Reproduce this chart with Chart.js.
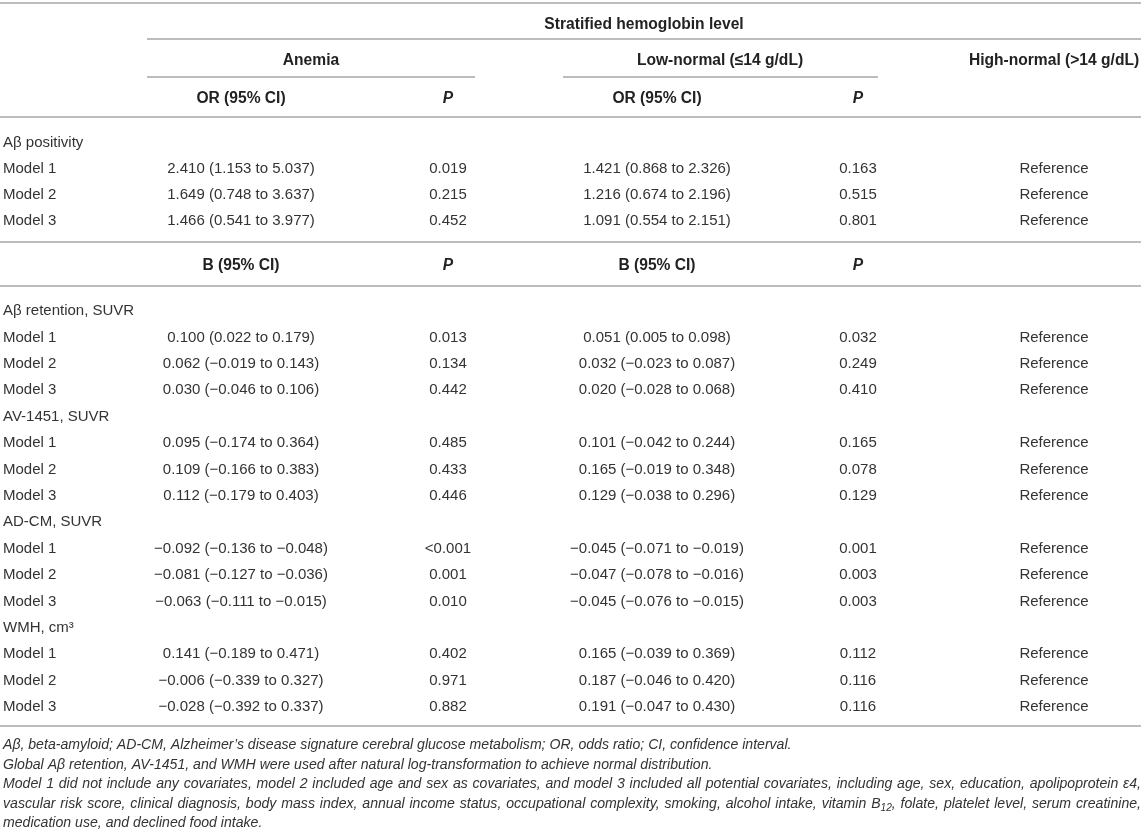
<!DOCTYPE html>
<html>
<head>
<meta charset="utf-8">
<script src="https://cdn.jsdelivr.net/npm/chart.js@4.4.0/dist/chart.umd.min.js"></script>
<style>
  html, body { margin: 0; padding: 0; background: #fff; }
  canvas { display: block; }
</style>
</head>
<body>
<canvas id="tbl" width="1144" height="833"></canvas>
<script>
// ---- table content ----
const outcomes = ['Aβ positivity', 'Aβ retention, SUVR', 'AV-1451, SUVR', 'AD-CM, SUVR', 'WMH, cm³'];
const models = ['Model 1', 'Model 2', 'Model 3'];
const topHead = 'Stratified hemoglobin level';
const groups = ['Anemia', 'Low-normal (≤14 g/dL)', 'High-normal (>14 g/dL)'];
const estHeads = ['OR (95% CI)', 'B (95% CI)'];
const pHead = 'P';
const refText = 'Reference';

const anemiaEst = [
  '2.410 (1.153 to 5.037)', '1.649 (0.748 to 3.637)', '1.466 (0.541 to 3.977)',
  '0.100 (0.022 to 0.179)', '0.062 (−0.019 to 0.143)', '0.030 (−0.046 to 0.106)',
  '0.095 (−0.174 to 0.364)', '0.109 (−0.166 to 0.383)', '0.112 (−0.179 to 0.403)',
  '−0.092 (−0.136 to −0.048)', '−0.081 (−0.127 to −0.036)', '−0.063 (−0.111 to −0.015)',
  '0.141 (−0.189 to 0.471)', '−0.006 (−0.339 to 0.327)', '−0.028 (−0.392 to 0.337)'
];
const anemiaP = [
  '0.019', '0.215', '0.452',
  '0.013', '0.134', '0.442',
  '0.485', '0.433', '0.446',
  '<0.001', '0.001', '0.010',
  '0.402', '0.971', '0.882'
];
const lowEst = [
  '1.421 (0.868 to 2.326)', '1.216 (0.674 to 2.196)', '1.091 (0.554 to 2.151)',
  '0.051 (0.005 to 0.098)', '0.032 (−0.023 to 0.087)', '0.020 (−0.028 to 0.068)',
  '0.101 (−0.042 to 0.244)', '0.165 (−0.019 to 0.348)', '0.129 (−0.038 to 0.296)',
  '−0.045 (−0.071 to −0.019)', '−0.047 (−0.078 to −0.016)', '−0.045 (−0.076 to −0.015)',
  '0.165 (−0.039 to 0.369)', '0.187 (−0.046 to 0.420)', '0.191 (−0.047 to 0.430)'
];
const lowP = [
  '0.163', '0.515', '0.801',
  '0.032', '0.249', '0.410',
  '0.165', '0.078', '0.129',
  '0.001', '0.003', '0.003',
  '0.112', '0.116', '0.116'
];

const footnotes = [
  'Aβ, beta-amyloid; AD-CM, Alzheimer’s disease signature cerebral glucose metabolism; OR, odds ratio; CI, confidence interval.',
  'Global Aβ retention, AV-1451, and WMH were used after natural log-transformation to achieve normal distribution.',
  'Model 1 did not include any covariates, model 2 included age and sex as covariates, and model 3 included all potential covariates, including age, sex, education, apolipoprotein ε4,',
  'vascular risk score, clinical diagnosis, body mass index, annual income status, occupational complexity, smoking, alcohol intake, vitamin B_12, folate, platelet level, serum creatinine,',
  'medication use, and declined food intake.'
];
const justified = [false, false, true, true, false];

// ---- layout (in scale units = px of the page) ----
const colX = [3, 241, 448, 657, 858, 1054];
const tableRight = 1141;
const yTop = 3, yStrat = 23, yGroup = 59, yEstHead = 97;
const lineStrat = 39, lineGroup = 77, lineHead = 117;
const firstRow1 = 141, step1 = 26;
const lineMid = 242, yBHead = 264, lineBHead = 286;
const firstRow2 = 309, step2 = 26.4;
const lineBottom = 726;
const firstNote = 743, noteStep = 19.6;
const textDy = 2;

const FONT = '"Liberation Sans", Arial, Helvetica, sans-serif';
const TXT = '#333333', HEAD = '#222222', RULE = '#bdbdbd';
const BOLD = 'bold 15.6px ' + FONT;

function drawRich(ctx, word, x, y, size, draw) {
  // handles _NN subscripts
  const parts = word.split(/(_\d+)/);
  let w = 0;
  parts.forEach(p => {
    if (!p) return;
    if (p[0] === '_') {
      ctx.font = 'italic ' + (size * 0.72) + 'px ' + FONT;
      const t = p.slice(1);
      if (draw) ctx.fillText(t, x + w, y + size * 0.28);
      w += ctx.measureText(t).width;
    } else {
      ctx.font = 'italic ' + size + 'px ' + FONT;
      if (draw) ctx.fillText(p, x + w, y);
      w += ctx.measureText(p).width;
    }
  });
  return w;
}

const tablePlugin = {
  id: 'tablePlugin',
  afterDraw(chart) {
    const ctx = chart.ctx;
    const xs = chart.scales.x, ys = chart.scales.y;
    const X = v => xs.getPixelForValue(v);
    const Y = v => ys.getPixelForValue(v);
    const T = v => ys.getPixelForValue(v + textDy);

    ctx.save();
    // rules
    ctx.strokeStyle = RULE;
    ctx.lineWidth = 2;
    const hline = (x0, x1, y) => {
      ctx.beginPath();
      ctx.moveTo(X(x0), Y(y));
      ctx.lineTo(X(x1), Y(y));
      ctx.stroke();
    };
    hline(0, tableRight, yTop);
    hline(147, tableRight, lineStrat);
    hline(147, 475, lineGroup);
    hline(563, 878, lineGroup);
    hline(0, tableRight, lineHead);
    hline(0, tableRight, lineMid);
    hline(0, tableRight, lineBHead);
    hline(0, tableRight, lineBottom);

    ctx.textBaseline = 'middle';
    // headers
    ctx.fillStyle = HEAD;
    ctx.textAlign = 'center';
    ctx.font = BOLD;
    ctx.fillText(topHead, X(644), T(yStrat));
    ctx.fillText(groups[0], X(311), T(yGroup));
    ctx.fillText(groups[1], X(720), T(yGroup));
    ctx.fillText(groups[2], X(1054), T(yGroup));
    [[yEstHead, estHeads[0]], [yBHead, estHeads[1]]].forEach(([yy, lab]) => {
      ctx.font = BOLD;
      ctx.fillText(lab, X(colX[1]), T(yy));
      ctx.fillText(lab, X(colX[3]), T(yy));
      ctx.font = 'italic ' + BOLD;
      ctx.fillText(pHead, X(colX[2]), T(yy));
      ctx.fillText(pHead, X(colX[4]), T(yy));
    });

    // body rows
    ctx.fillStyle = TXT;
    ctx.font = '15px ' + FONT;
    let k = 0;
    outcomes.forEach((lab, oi) => {
      const y = oi === 0 ? firstRow1 : firstRow2 + (oi - 1) * 4 * step2;
      const step = oi === 0 ? step1 : step2;
      ctx.textAlign = 'left';
      ctx.fillText(lab, X(colX[0]), T(y));
      models.forEach((m, mi) => {
        const yy = y + (mi + 1) * step;
        ctx.textAlign = 'left';
        ctx.fillText(m, X(colX[0]), T(yy));
        ctx.textAlign = 'center';
        ctx.fillText(anemiaEst[k], X(colX[1]), T(yy));
        ctx.fillText(anemiaP[k], X(colX[2]), T(yy));
        ctx.fillText(lowEst[k], X(colX[3]), T(yy));
        ctx.fillText(lowP[k], X(colX[4]), T(yy));
        ctx.fillText(refText, X(colX[5]), T(yy));
        k++;
      });
    });

    // footnotes
    const fs = 14.1;
    ctx.textAlign = 'left';
    footnotes.forEach((line, i) => {
      const y = T(firstNote + i * noteStep);
      const x0 = X(colX[0]);
      if (!justified[i]) {
        drawRich(ctx, line, x0, y, fs, true);
        return;
      }
      const words = line.split(' ');
      const widths = words.map(w => drawRich(ctx, w, 0, 0, fs, false));
      const total = widths.reduce((a, b) => a + b, 0);
      const gap = (X(tableRight) - x0 - total) / (words.length - 1);
      let x = x0;
      words.forEach((w, wi) => {
        drawRich(ctx, w, x, y, fs, true);
        x += widths[wi] + gap;
      });
    });
    ctx.restore();
  }
};

new Chart(document.getElementById('tbl'), {
  type: 'scatter',
  data: { datasets: [{ data: [], pointRadius: 0 }] },
  options: {
    responsive: false,
    animation: false,
    devicePixelRatio: 1,
    layout: { padding: 0 },
    plugins: { legend: { display: false }, tooltip: { enabled: false } },
    scales: {
      x: { type: 'linear', min: 0, max: 1144, display: false },
      y: { type: 'linear', min: 0, max: 833, reverse: true, display: false }
    }
  },
  plugins: [tablePlugin]
});
</script>
</body>
</html>
